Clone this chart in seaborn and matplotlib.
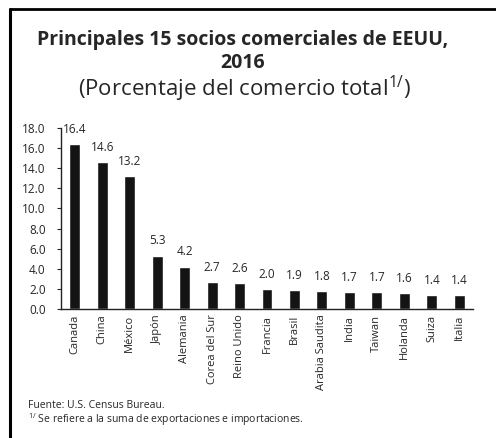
import matplotlib
matplotlib.use("Agg")
import matplotlib.pyplot as plt
from matplotlib.lines import Line2D
import seaborn as sns
import pandas as pd

countries = ["Canada", "China", "México", "Japón", "Alemania", "Corea del Sur",
             "Reino Unido", "Francia", "Brasil", "Arabia Saudita", "India",
             "Taiwan", "Holanda", "Suiza", "Italia"]
shares = [16.4, 14.6, 13.2, 5.3, 4.2, 2.7, 2.6, 2.0, 1.9, 1.8, 1.7, 1.7, 1.6, 1.4, 1.4]
y_ticks = [0, 2, 4, 6, 8, 10, 12, 14, 16, 18]

sns.set_style("white")
plt.rcParams["font.family"] = ["Open Sans", "DejaVu Sans"]
plt.rcParams["mathtext.fontset"] = "custom"
plt.rcParams["mathtext.rm"] = "Open Sans"
plt.rcParams["mathtext.it"] = "Open Sans"

df = pd.DataFrame({"pais": countries, "pct": shares})

W, H = 496, 438
fig = plt.figure(figsize=(W / 100, H / 100), dpi=100)
ax = fig.add_axes([61 / W, 1 - 309 / H, (473 - 61) / W, (309 - 128) / H])

sns.barplot(data=df, x="pais", y="pct", color="#141414", width=0.4,
            saturation=1, ax=ax)

for i, v in enumerate(shares):
    ax.annotate(f"{v:.1f}", (i, v), xytext=(0, 6), textcoords="offset points",
                ha="center", va="bottom", fontsize=8.5)

ax.set_xlim(-0.5, len(countries) - 0.5)
ax.set_ylim(0, 18)
ax.set_yticks(y_ticks)
ax.set_yticklabels([f"{t:.1f}" for t in y_ticks], fontsize=8.5)
ax.set_xticks(range(len(countries)))
ax.set_xticklabels(countries, rotation=90, fontsize=8)
ax.tick_params(axis="y", direction="out", length=3, width=0.8, pad=8, left=True)
ax.tick_params(axis="x", length=0, pad=4)
ax.set_xlabel("")
ax.set_ylabel("")
for s in ["top", "right"]:
    ax.spines[s].set_visible(False)
for s in ["left", "bottom"]:
    ax.spines[s].set_color("#222222")
    ax.spines[s].set_linewidth(1.0)

fig.text(243 / W, 1 - 40 / H, "Principales 15 socios comerciales de EEUU,",
         ha="center", va="center", fontsize=14, fontweight="bold")
fig.text(243 / W, 1 - 63 / H, "2016", ha="center", va="center",
         fontsize=14, fontweight="bold")
fig.text(244 / W, 1 - 89 / H, r"(Porcentaje del comercio total$^{1/}$)",
         ha="center", va="center", fontsize=16)

fig.text(28 / W, 1 - 406 / H, "Fuente: U.S. Census Bureau.",
         ha="left", va="center", fontsize=7.5)
fig.text(28 / W, 1 - 420 / H, r"$^{1/}$ Se refiere a la suma de exportaciones e importaciones.",
         ha="left", va="center", fontsize=7.5)

# frame lines along the top and left edges
fig.add_artist(Line2D([10 / W, 1.0], [1 - 9 / H, 1 - 9 / H], color="black",
                      linewidth=2, transform=fig.transFigure))
fig.add_artist(Line2D([10 / W, 10 / W], [1 - 9 / H, 0.0], color="black",
                      linewidth=2.2, transform=fig.transFigure))

fig.savefig("out.png", dpi=100)
